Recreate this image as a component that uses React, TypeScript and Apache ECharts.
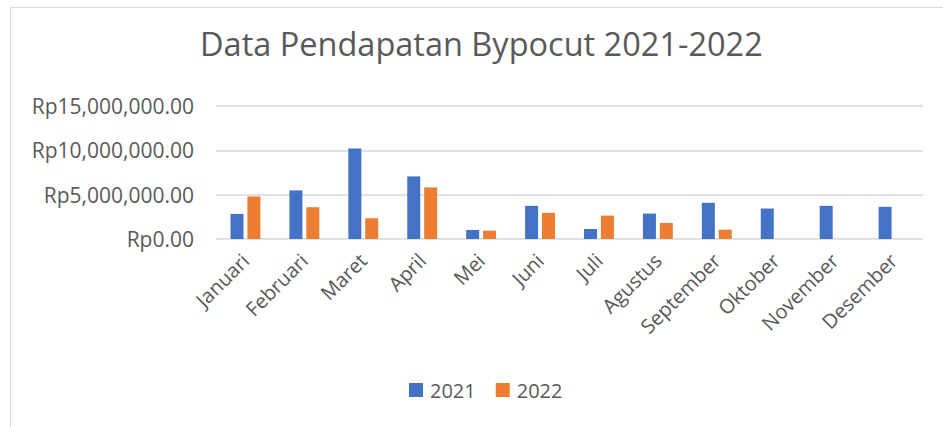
import React, { useEffect, useRef } from "react";
import * as echarts from "echarts";

const months = ["Januari", "Februari", "Maret", "April", "Mei", "Juni", "Juli", "Agustus", "September", "Oktober", "November", "Desember"];
const data2021 = [2830000, 5480000, 10200000, 7060000, 1020000, 3740000, 1130000, 2870000, 4080000, 3440000, 3740000, 3630000];
const data2022 = [4800000, 3580000, 2340000, 5820000, 940000, 2950000, 2640000, 1810000, 1050000, null, null, null];
const yTicks = [0, 5000000, 10000000, 15000000];

const fmt = (v: number) =>
  "Rp" + v.toLocaleString("en-US", { minimumFractionDigits: 2, maximumFractionDigits: 2 });

export default function App() {
  const ref = useRef<HTMLDivElement>(null);
  useEffect(() => {
    document.body.style.margin = "0";
    const chart = echarts.init(ref.current!, null, { renderer: "svg" });
    const font = "'Open Sans', 'Noto Sans', sans-serif";
    chart.setOption({
      animation: false,
      backgroundColor: "#ffffff",
      textStyle: { fontFamily: font },
      title: {
        text: "Data Pendapatan Bypocut 2021-2022",
        left: 195,
        top: 22,
        textStyle: { fontFamily: font, fontSize: 32.5, fontWeight: "normal", color: "#595959" },
      },
      graphic: [
        {
          type: "rect",
          shape: { x: 10.5, y: 7.5, width: 1000, height: 1000 },
          style: { fill: "none", stroke: "#d9d9d9", lineWidth: 1 },
          silent: true,
        },
      ],
      legend: {
        bottom: 22,
        left: 404,
        itemWidth: 14,
        itemHeight: 14,
        itemGap: 20,
        icon: "rect",
        textStyle: { fontFamily: font, fontSize: 20, color: "#595959", padding: [0, 0, 0, 2] },
        data: ["2021", "2022"],
      },
      grid: { left: 216, right: 20, top: 106, bottom: 188 },
      xAxis: {
        type: "category",
        data: months,
        axisLine: { show: false },
        axisTick: { show: false },
        axisLabel: { rotate: 45, fontSize: 20, color: "#595959", fontFamily: font, margin: 18 },
      },
      yAxis: {
        type: "value",
        min: 0,
        max: yTicks[yTicks.length - 1],
        interval: 5000000,
        axisLine: { show: false },
        axisTick: { show: false },
        axisLabel: { fontSize: 21, color: "#595959", fontFamily: font, margin: 22, formatter: (v: number) => fmt(v) },
        splitLine: { lineStyle: { color: "#d9d9d9", width: 1.5 } },
      },
      series: [
        {
          name: "2021",
          type: "bar",
          data: data2021,
          barWidth: 13,
          barGap: "30%",
          itemStyle: { color: "#4472c4" },
        },
        {
          name: "2022",
          type: "bar",
          data: data2022,
          barWidth: 13,
          itemStyle: { color: "#ed7d31" },
        },
      ],
    });
    return () => chart.dispose();
  }, []);
  return <div ref={ref} style={{ width: 943, height: 427 }} />;
}
